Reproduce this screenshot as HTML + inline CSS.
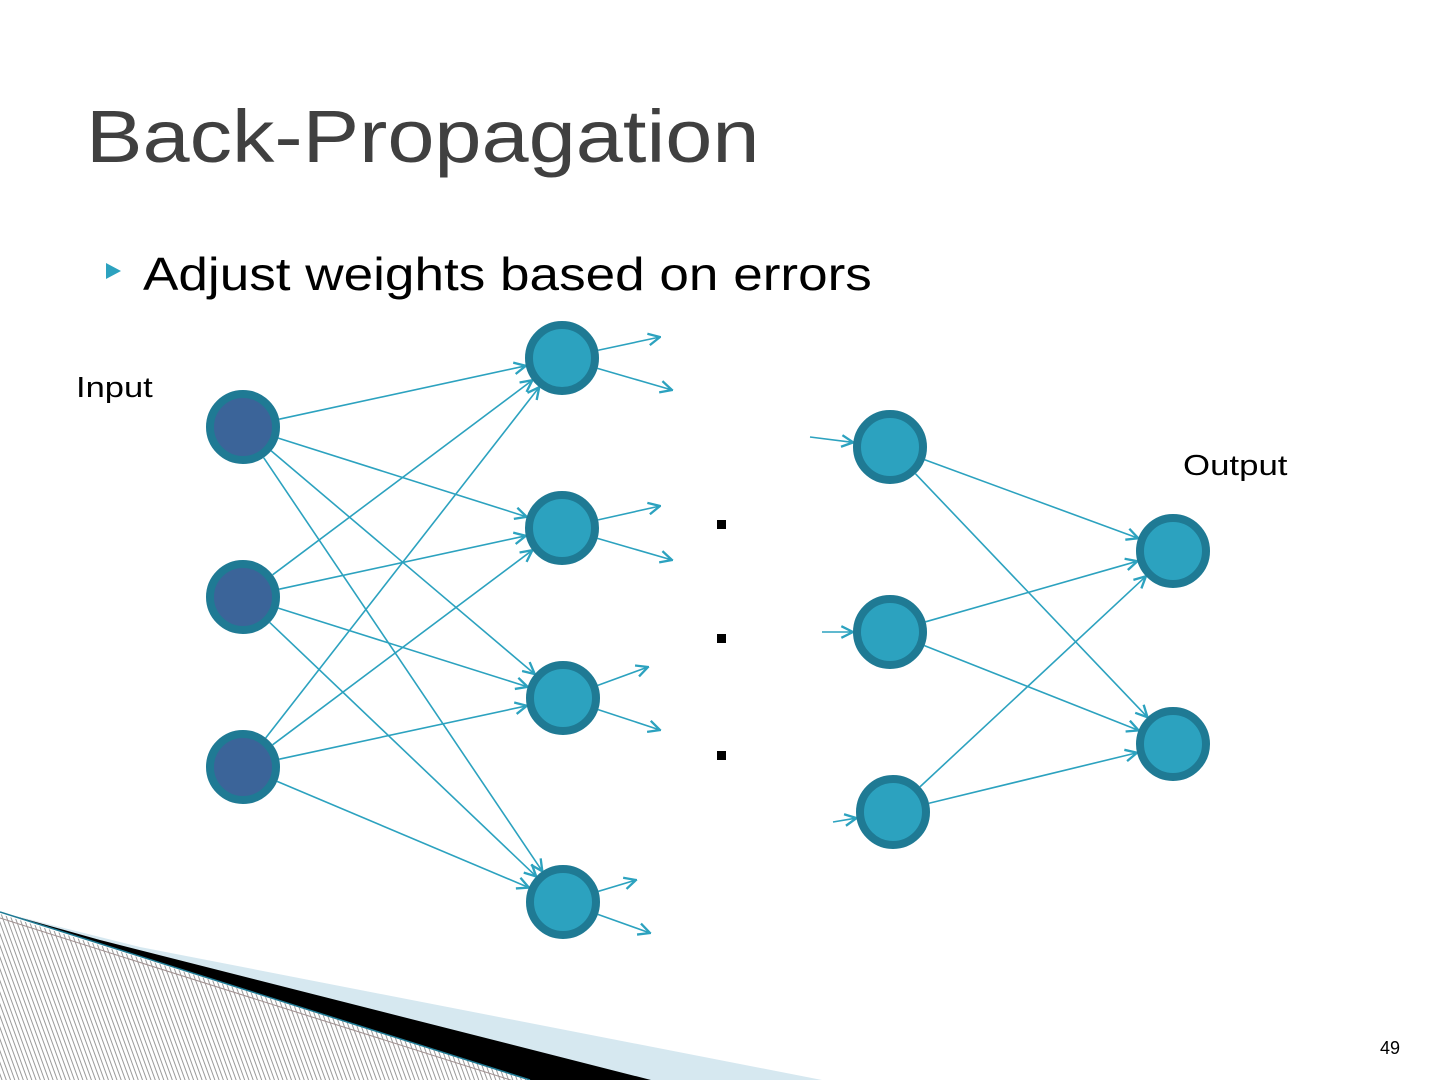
<!DOCTYPE html>
<html><head><meta charset="utf-8"><style>
html,body{margin:0;padding:0;background:#fff;}
#c{position:relative;width:1440px;height:1080px;overflow:hidden;font-family:"Liberation Sans",sans-serif;}
.t{position:absolute;white-space:nowrap;transform-origin:0 0;}
</style></head><body><div id="c">
<svg id="s" width="1440" height="1080" style="position:absolute;left:0;top:0">
<defs>
<pattern id="h" width="4" height="4" patternUnits="userSpaceOnUse" patternTransform="rotate(-20)">
<rect width="4" height="4" fill="#fff"/><line x1="0.5" y1="0" x2="0.5" y2="4" stroke="#9a9a9a" stroke-width="1"/>
</pattern>
<marker id="a" viewBox="0 0 12 12" refX="11" refY="6" markerWidth="14" markerHeight="14" markerUnits="userSpaceOnUse" orient="auto">
<path d="M1,1 L11,6 L1,11" fill="none" stroke="#2ca2bf" stroke-width="2"/>
</marker>
</defs>
<polygon points="0,912 140,947 822,1080 530,1080" fill="#d6e8f0"/>
<polygon points="0,912 100,940 651,1080 530,1080" fill="#000"/>
<polygon points="0,1080 0,914 530,1080" fill="url(#h)"/>
<line x1="0" y1="912" x2="530" y2="1080" stroke="#1f7a94" stroke-width="1.5"/>
<line x1="0" y1="918" x2="520" y2="1083" stroke="#a09090" stroke-width="1"/>
<g id="e" stroke="#2ca2bf" stroke-width="1.6" fill="none"></g>
<g id="n"></g>
<rect x="717" y="520" width="9" height="9" fill="#000"/>
<rect x="717" y="634" width="9" height="9" fill="#000"/>
<rect x="717" y="751" width="9" height="9" fill="#000"/>
<polygon points="106,263 106,279 121,271" fill="#2ca2bf"/>
</svg>
<div class="t" style="left:86px;top:94px;font-size:74px;color:#404040;transform:scaleX(1.145);">Back-Propagation</div>
<div class="t" style="left:143px;top:247px;font-size:46px;color:#000;transform:scaleX(1.154);">Adjust weights based on errors</div>
<div class="t" style="left:76px;top:372px;font-size:29px;color:#000;transform:scaleX(1.19);">Input</div>
<div class="t" style="left:1183px;top:450px;font-size:29px;color:#000;transform:scaleX(1.2);">Output</div>
<div class="t" style="left:1380px;top:1038px;font-size:18px;color:#000;">49</div>
</div>
<script>
var NS="http://www.w3.org/2000/svg";
var I=[[243,427],[243,597],[243,767]];
var H=[[562,358],[562,528],[563,698],[563,902]];
var G=[[890,447],[890,632],[893,812]];
var O=[[1173,551],[1173,744]];
var R=37;
var e=document.getElementById('e'),n=document.getElementById('n');
function ln(a,b,sr,er){var dx=b[0]-a[0],dy=b[1]-a[1],d=Math.hypot(dx,dy);
var l=document.createElementNS(NS,'line');
l.setAttribute('x1',a[0]+dx/d*sr);l.setAttribute('y1',a[1]+dy/d*sr);
l.setAttribute('x2',b[0]-dx/d*er);l.setAttribute('y2',b[1]-dy/d*er);
l.setAttribute('marker-end','url(#a)');e.appendChild(l);}
I.forEach(function(a){H.forEach(function(b){ln(a,b,R,R);});});
G.forEach(function(a){O.forEach(function(b){ln(a,b,R,R);});});
var st=[[[660,337],[672,390]],[[660,506],[672,560]],[[648,667],[660,730]],[[636,880],[650,933]]];
H.forEach(function(h,i){st[i].forEach(function(p){ln(h,p,R,0);});});
var ins=[[810,437],[822,632],[833,822]];
G.forEach(function(g,i){ln(ins[i],g,0,R);});
function c(p,f){var k=document.createElementNS(NS,'circle');k.setAttribute('cx',p[0]);k.setAttribute('cy',p[1]);k.setAttribute('r',33);k.setAttribute('fill',f);k.setAttribute('stroke','#1f7a94');k.setAttribute('stroke-width',8);n.appendChild(k);}
I.forEach(function(p){c(p,'#3b6499');});
H.concat(G,O).forEach(function(p){c(p,'#2ca2bf');});
</script>
</body></html>
